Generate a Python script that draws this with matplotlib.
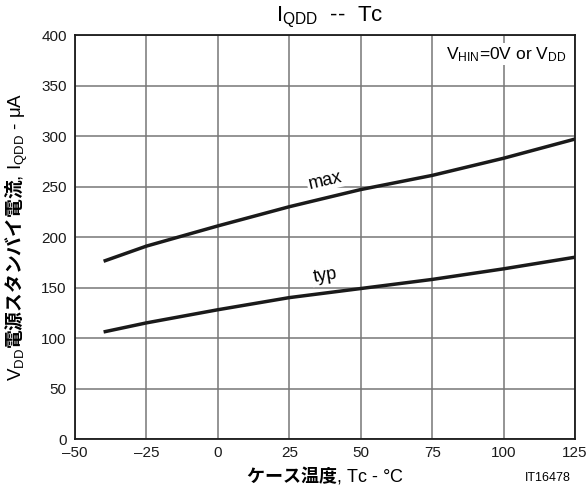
import matplotlib
matplotlib.use("Agg")
import matplotlib.pyplot as plt
import numpy as np

# data
temps = [-40, -25, 0, 25, 50, 75, 100, 125]
iqdd_max = [176, 191, 211, 230, 247, 261, 278, 297]
iqdd_typ = [106, 115, 128, 140, 149, 158, 168.5, 180]

x_ticks = [-50, -25, 0, 25, 50, 75, 100, 125]
x_ticklabels = ['\u201350', '\u201325', '0', '25', '50', '75', '100', '125']
y_ticks = [0, 50, 100, 150, 200, 250, 300, 350, 400]

plt.rcParams['font.family'] = ['Liberation Sans', 'Noto Sans CJK JP', 'DejaVu Sans']
plt.rcParams['mathtext.fontset'] = 'custom'
plt.rcParams['mathtext.rm'] = 'Liberation Sans'
plt.rcParams['mathtext.it'] = 'Liberation Sans'
plt.rcParams['mathtext.bf'] = 'Noto Sans CJK JP:bold'

fig = plt.figure(figsize=(5.88, 4.93), dpi=100)
ax = fig.add_axes([0.1276, 0.1095, 0.8504, 0.8195])

ax.plot(temps, iqdd_max, color='#1a1a1a', lw=2.5, solid_capstyle='butt', zorder=3)
ax.plot(temps, iqdd_typ, color='#1a1a1a', lw=2.5, solid_capstyle='butt', zorder=3)

ax.set_xlim(-50, 125)
ax.set_ylim(0, 400)
ax.set_xticks(x_ticks)
ax.set_xticklabels(x_ticklabels)
ax.set_yticks(y_ticks)
ax.tick_params(length=0, labelsize=11, colors='#1a1a1a')
ax.tick_params(axis='x', pad=5)
ax.tick_params(axis='y', pad=6)
ax.grid(True, color='#777777', lw=1.1)
ax.set_axisbelow(True)
for s in ax.spines.values():
    s.set_color('#1a1a1a')
    s.set_linewidth(1.3)

bbox = dict(facecolor='white', edgecolor='none', pad=1)
ax.text(37.5, 256, 'max', rotation=13, fontsize=13, ha='center', va='center',
        bbox=bbox, zorder=2)
ax.text(37.5, 162, 'typ', rotation=9, fontsize=13, ha='center', va='center',
        bbox=bbox, zorder=2)
ax.text(122, 381, r'$\mathrm{V_{HIN}}$=0V or $\mathrm{V_{DD}}$', fontsize=12.5,
        ha='right', va='center', bbox=bbox, zorder=2)

fig.text(0.56, 0.965, r'$\mathrm{I_{QDD}}$  --  Tc', fontsize=16, ha='center', va='center')
ax.set_xlabel(r'$\mathbf{ケース温度}$' + ', Tc - \u00b0C', fontsize=13, labelpad=3)
ax.set_ylabel(r'$\mathrm{V_{DD}}\mathbf{電源スタンバイ電流}$, $\mathrm{I_{QDD}}$' + ' - \u03bcA',
              fontsize=13.5, labelpad=8)
fig.text(0.932, 0.03, 'IT16478', fontsize=9, ha='center', va='center')

fig.savefig('out.png', dpi=100)
